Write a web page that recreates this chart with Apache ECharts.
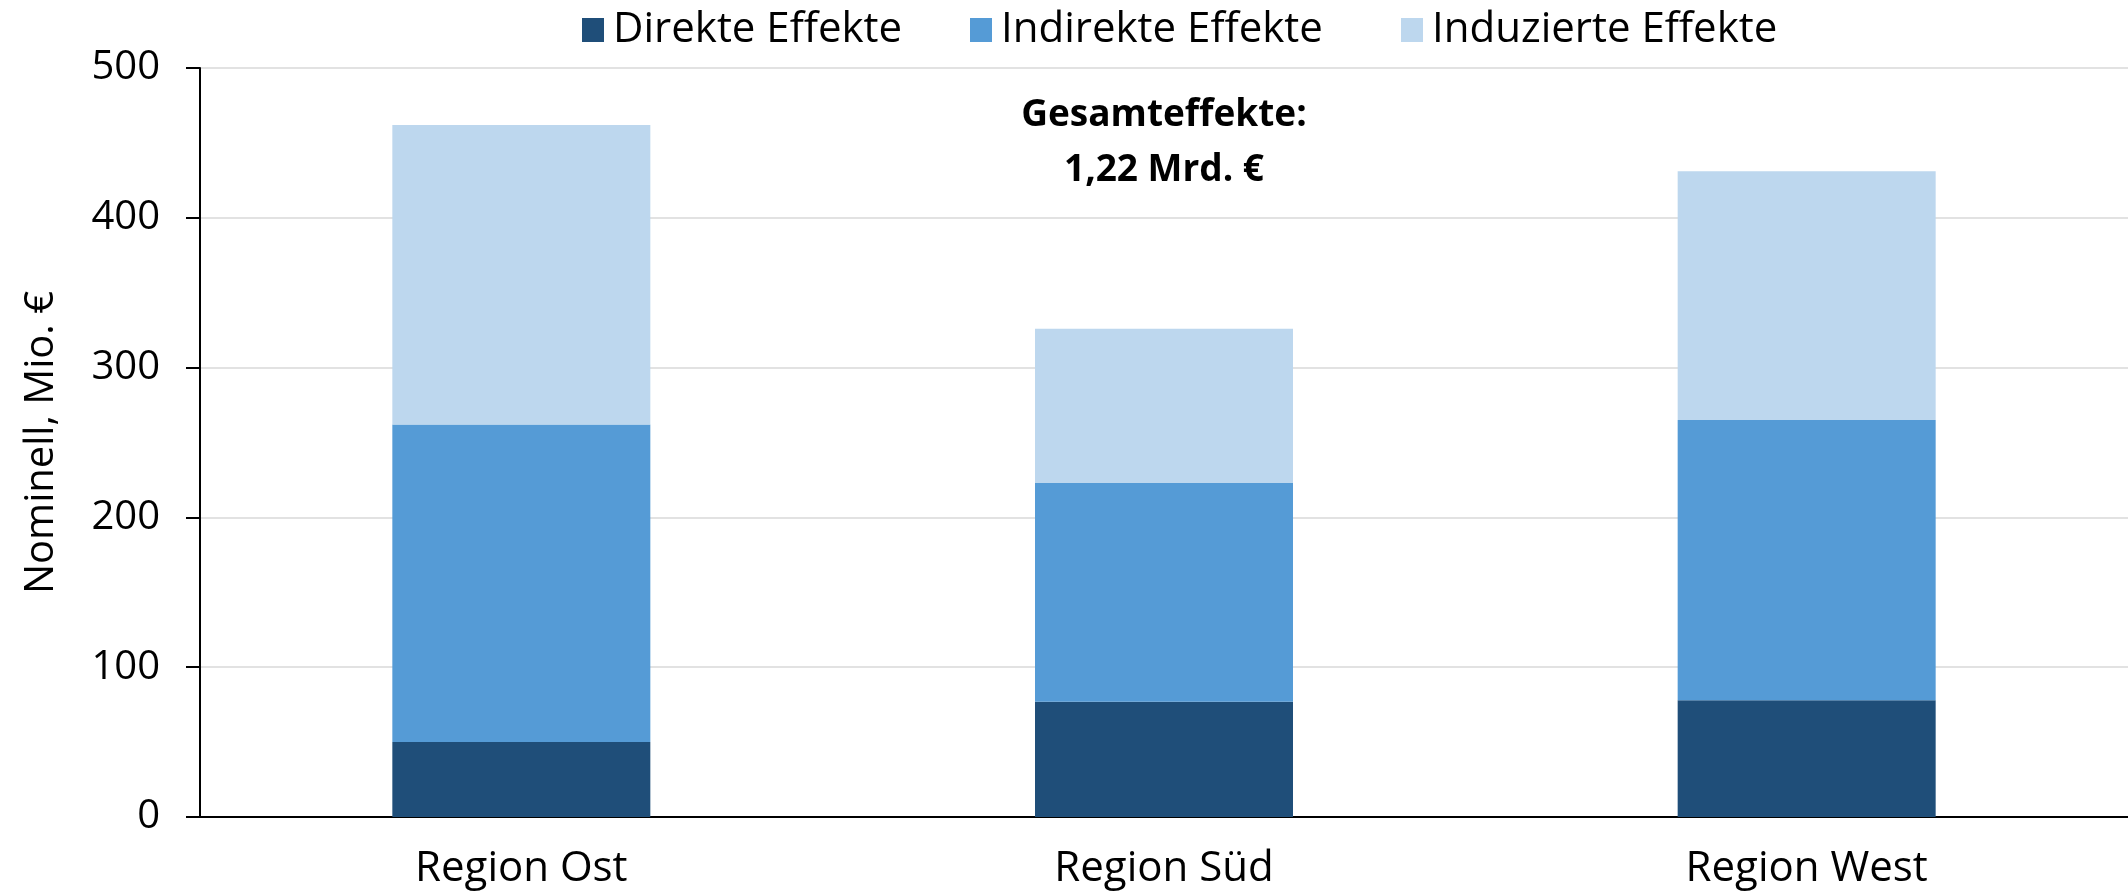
<!DOCTYPE html>
<html>
<head>
<meta charset="utf-8">
<script src="https://cdn.jsdelivr.net/npm/echarts@6/dist/echarts.min.js"></script>
<style>
html,body{margin:0;padding:0;background:#fff;}
#chart{width:2128px;height:895px;}
</style>
</head>
<body>
<div id="chart"></div>
<script>
const categories = ['Region Ost', 'Region Süd', 'Region West'];
const seriesNames = ['Direkte Effekte', 'Indirekte Effekte', 'Induzierte Effekte'];
const direkte = [50, 77, 78];
const indirekte = [212, 146, 187];
const induzierte = [200, 103, 166];
const yAxisName = 'Nominell, Mio. €';
const annotationLines = ['Gesamteffekte:', '1,22 Mrd. €'];
const colors = ['#1F4E79', '#559BD6', '#BDD7EE'];

const FONT = '"Open Sans", sans-serif';
const chart = echarts.init(document.getElementById('chart'), null, {renderer: 'canvas'});

const seriesData = [direkte, indirekte, induzierte];
const legendLefts = [577, 965, 1396];

const option = {
  animation: false,
  backgroundColor: '#ffffff',
  textStyle: {fontFamily: FONT},
  grid: {left: 200, right: -6, top: 68, bottom: 78, containLabel: false},
  legend: seriesNames.map((n, i) => ({
    data: [n],
    left: legendLefts[i],
    top: 4,
    icon: 'rect',
    itemWidth: 22,
    itemHeight: 24,
    selectedMode: false,
    textStyle: {fontFamily: FONT, fontSize: 42, color: '#000', padding: [0, 0, 0, 4]}
  })),
  xAxis: {
    type: 'category',
    data: categories,
    axisLine: {show: true, lineStyle: {color: '#000', width: 2}},
    axisTick: {show: false},
    axisLabel: {fontFamily: FONT, fontSize: 42, color: '#000', margin: 31},
    splitLine: {show: false}
  },
  yAxis: {
    type: 'value',
    min: 0,
    max: 500,
    interval: 100,
    name: yAxisName,
    nameLocation: 'middle',
    nameGap: 138,
    nameRotate: 90,
    nameTextStyle: {fontFamily: FONT, fontSize: 40, color: '#000'},
    axisLine: {show: true, lineStyle: {color: '#000', width: 2}},
    axisTick: {show: true, length: 14, inside: false, lineStyle: {color: '#000', width: 2}},
    axisLabel: {fontFamily: FONT, fontSize: 40, color: '#000', margin: 40},
    splitLine: {show: true, lineStyle: {color: '#d9d9d9', width: 1.5}}
  },
  series: seriesNames.map((n, i) => ({
    name: n,
    type: 'bar',
    stack: 'total',
    barWidth: 258,
    data: seriesData[i],
    itemStyle: {color: colors[i]},
    emphasis: {disabled: true}
  }))
};
chart.setOption(option);

// Annotation positioned via chart coordinates of the middle category
const cx = chart.convertToPixel({xAxisIndex: 0}, categories[1]);
chart.setOption({
  graphic: annotationLines.map((t, i) => ({
    type: 'text', x: cx, y: i === 0 ? 115 : 170, silent: true,
    style: {text: t, font: 'bold 37px ' + FONT, fill: '#000', align: 'center', verticalAlign: 'middle'}
  }))
});
</script>
</body>
</html>
